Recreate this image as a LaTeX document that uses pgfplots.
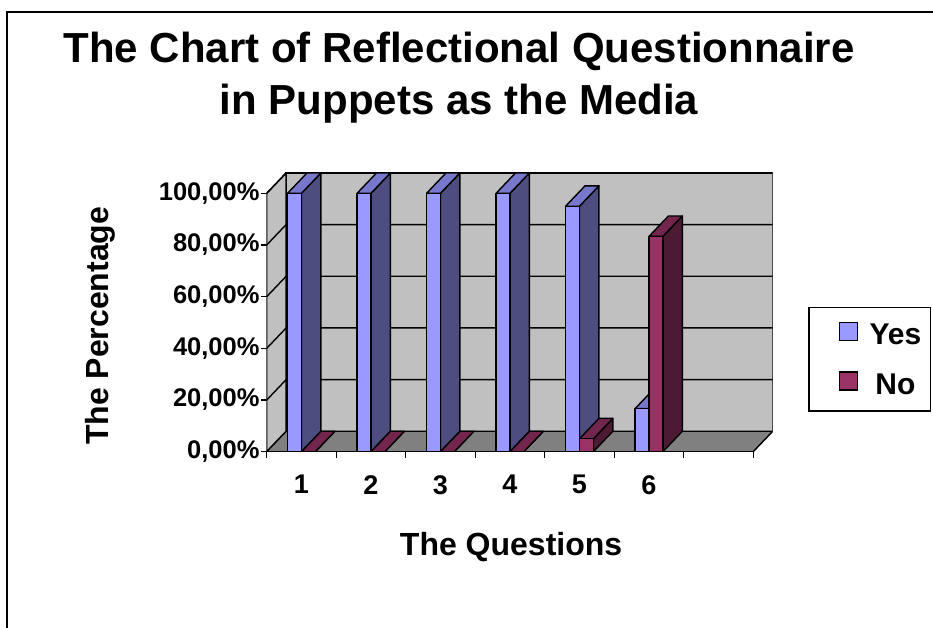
\documentclass[border=0pt]{standalone}
\usepackage{pgfplots}
\pgfplotsset{compat=1.18}
\usepackage{fontspec}
\setmainfont{Liberation Sans}
\definecolor{yesF}{RGB}{153,153,255}
\definecolor{yesS}{RGB}{77,77,128}
\definecolor{yesT}{RGB}{119,119,204}
\definecolor{noF}{RGB}{153,51,102}
\definecolor{noS}{RGB}{77,26,51}
\definecolor{noT}{RGB}{115,38,77}
\definecolor{wallgray}{RGB}{192,192,192}
\definecolor{floorgray}{RGB}{128,128,128}
\newcommand\barw{0.2}
\newcommand\depx{0.28}
\newcommand\depy{7.9}
\newcommand\cuboid[5]{%
 \pgfmathsetmacro\cxl{#1}%
 \pgfmathsetmacro\cxr{#1+\barw}%
 \pgfmathsetmacro\cxlb{#1+\depx}%
 \pgfmathsetmacro\cxrb{#1+\barw+\depx}%
 \pgfmathsetmacro\cyt{#2}%
 \pgfmathsetmacro\cytb{#2+\depy}%
 \addplot[forget plot,fill=#4,draw=black,line width=1.4pt,line join=round] coordinates {(\cxr,0) (\cxrb,\depy) (\cxrb,\cytb) (\cxr,\cyt) (\cxr,0)};
 \addplot[forget plot,fill=#5,draw=black,line width=1.4pt,line join=round] coordinates {(\cxl,\cyt) (\cxr,\cyt) (\cxrb,\cytb) (\cxlb,\cytb) (\cxl,\cyt)};
 \addplot[forget plot,fill=#3,draw=black,line width=1.4pt,line join=round] coordinates {(\cxl,0) (\cxr,0) (\cxr,\cyt) (\cxl,\cyt) (\cxl,0)};
}
\newcommand\yesbar[2]{\cuboid{#1-\barw}{#2}{yesF}{yesS}{yesT}}
\newcommand\nobar[2]{\cuboid{#1}{#2}{noF}{noS}{noT}}
\begin{document}
\begin{tikzpicture}
\useasboundingbox (0pt,0pt) rectangle (933pt,-628pt);
\draw[line width=2pt] (6.5pt,-12pt) rectangle (950pt,-660pt);
\begin{axis}[
  at={(266.7pt,-451.7pt)}, anchor=south west,
  scale only axis, width=506pt, height=278.8pt,
  xmin=0.5, xmax=7.78, ymin=0, ymax=107.9,
  axis lines*=left, axis line style={draw=none},
  tick align=outside, major tick length=6pt,
  every tick/.style={black, line width=1.3pt},
  xtick={0.5,1.5,...,7.5}, x tick label as interval,
  xticklabels={1,2,3,4,5,6,{}},
  ytick={0,20,40,60,80,100},
  yticklabels={{0,00\%},{20,00\%},{40,00\%},{60,00\%},{80,00\%},{100,00\%}},
  xticklabel style={font=\fontsize{27}{27}\selectfont\bfseries, yshift=-14pt},
  yticklabel style={font=\fontsize{25.5}{25.5}\selectfont\bfseries, inner sep=1pt},
  title={The Chart of Reflectional Questionnaire\\in Puppets as the Media},
  title style={font=\fontsize{42}{52}\selectfont\bfseries, align=center,
    at={(axis description cs:0.380,1.486)}, anchor=north, inner sep=0pt},
  xlabel={The Questions},
  xlabel style={font=\fontsize{32}{32}\selectfont\bfseries,
    at={(axis description cs:0.483,-0.374)}, anchor=base, inner sep=0pt},
  ylabel={The Percentage},
  ylabel style={font=\fontsize{32}{32}\selectfont\bfseries,
    at={(axis description cs:-0.313,0.4516)}, anchor=base, inner sep=0pt},
  legend style={at={(axis description cs:1.0704,0.520)}, anchor=north west,
    draw=black, line width=1.5pt, font=\fontsize{30}{30}\selectfont\bfseries,
    inner xsep=8pt, inner ysep=14pt, row sep=24pt,
    nodes={inner sep=1pt}},
]
% walls and floor
\addplot[forget plot,fill=wallgray,draw=black,line width=1.4pt] coordinates {(0.78,7.9) (7.78,7.9) (7.78,107.9) (0.78,107.9) (0.78,7.9)};
\addplot[forget plot,fill=wallgray,draw=black,line width=1.4pt] coordinates {(0.5,0) (0.78,7.9) (0.78,107.9) (0.5,100) (0.5,0)};
\addplot[forget plot,fill=floorgray,draw=black,line width=1.4pt] coordinates {(0.5,0) (7.5,0) (7.78,7.9) (0.78,7.9) (0.5,0)};
% gridlines
\addplot[forget plot,black,line width=1.4pt] coordinates {(0.5,20) (0.78,27.9) (7.78,27.9)};
\addplot[forget plot,black,line width=1.4pt] coordinates {(0.5,40) (0.78,47.9) (7.78,47.9)};
\addplot[forget plot,black,line width=1.4pt] coordinates {(0.5,60) (0.78,67.9) (7.78,67.9)};
\addplot[forget plot,black,line width=1.4pt] coordinates {(0.5,80) (0.78,87.9) (7.78,87.9)};
\addplot[forget plot,black,line width=1.4pt] coordinates {(0.5,100) (0.78,107.9) (7.78,107.9)};
% bars: Yes / No per question
\yesbar{1}{100} \nobar{1}{0}
\yesbar{2}{100} \nobar{2}{0}
\yesbar{3}{100} \nobar{3}{0}
\yesbar{4}{100} \nobar{4}{0}
\yesbar{5}{95}  \nobar{5}{5}
\yesbar{6}{16.67} \nobar{6}{83.33}
% front axis lines
\addplot[forget plot,black,line width=1.5pt] coordinates {(0.5,100) (0.5,0) (7.5,0)};
\addlegendimage{legend image code/.code={\path (-22pt,-5pt) (28pt,13pt);
    \filldraw[fill=yesF,draw=black,line width=1.3pt] (0pt,-5pt) rectangle (18pt,13pt);}}
\addlegendentry{Yes}
\addlegendimage{legend image code/.code={\path (-22pt,-5pt) (28pt,13pt);
    \filldraw[fill=noF,draw=black,line width=1.3pt] (0pt,-5pt) rectangle (18pt,13pt);}}
\addlegendentry{No}
\end{axis}
\end{tikzpicture}
\end{document}
